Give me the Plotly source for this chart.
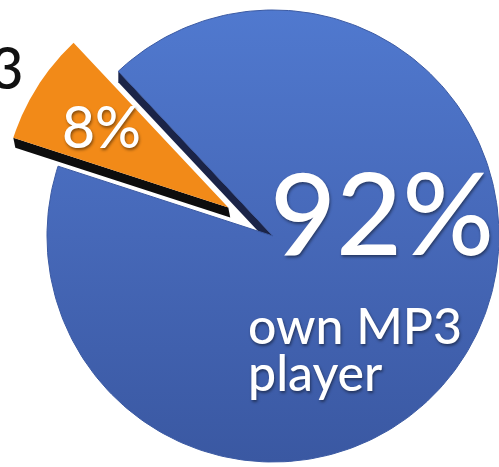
import numpy as np
import plotly.graph_objects as go

# Survey result: share of respondents owning an MP3 player
labels = ["own MP3 player", "don't own MP3 player"]
values = [92, 8]
face_colors = ["#4a70c4", "#f28a18"]
side_colors = ["#1b2447", "#0d0d0d"]
caption_lines = ["own MP3", "player"]
outside_caption = "don't own MP3"

W, H = 499, 467
CX, CY, R = 273, 236, 226      # pie centre and radius, in pixels
START = 162.0                  # angle where the first slice begins (deg, ccw from 3 o'clock)
PULL = 53                      # how far the small slice is pulled out
BLUE_DEPTH = (0, 11)           # visible thickness of the cut faces
ORANGE_DEPTH = (2, 10)

total = float(sum(values))
spans = [v / total * 360.0 for v in values]
pct = [f"{round(v / total * 100):.0f}%" for v in values]


def wedge(cx, cy, r, a0, a1, n=240):
    t = np.radians(np.linspace(a0, a1, n))
    xs = np.concatenate([[cx], cx + r * np.cos(t), [cx]])
    ys = np.concatenate([[cy], cy - r * np.sin(t), [cy]])
    return xs, ys


def cut_face(cx, cy, r, a, d):
    t = np.radians(a)
    ox, oy = cx + r * np.cos(t), cy - r * np.sin(t)
    xs = [cx, ox, ox + d[0], cx + d[0], cx]
    ys = [cy, oy, oy + d[1], cy + d[1], cy]
    return xs, ys


fig = go.Figure()

# big slice: runs counter-clockwise from START
b0, b1 = START, START + spans[0]
# small slice fills the remaining gap and is pulled out along its bisector
o0, o1 = START - spans[1], START
mid = np.radians((o0 + o1) / 2)
ocx, ocy = CX + PULL * np.cos(mid), CY - PULL * np.sin(mid)

sx, sy = cut_face(CX, CY, R, b1, BLUE_DEPTH)
fig.add_trace(go.Scatter(x=sx, y=sy, fill="toself", mode="lines",
                         line=dict(width=0), fillcolor=side_colors[0],
                         hoverinfo="skip", showlegend=False))
bx, by = wedge(CX, CY, R, b0, b1)
fig.add_trace(go.Scatter(x=bx, y=by, fill="toself", mode="lines",
                         line=dict(width=1, color="#3b5aa3"),
                         fillgradient=dict(type="vertical", start=CY - R, stop=CY + R,
                                           colorscale=[[0, "#5079cf"], [0.5, "#4668b8"],
                                                       [1, "#3a58a2"]]),
                         name=labels[0], hoverinfo="name", showlegend=False))

sx, sy = cut_face(ocx, ocy, R, o1, ORANGE_DEPTH)
fig.add_trace(go.Scatter(x=sx, y=sy, fill="toself", mode="lines",
                         line=dict(width=0), fillcolor=side_colors[1],
                         hoverinfo="skip", showlegend=False))
ox, oy = wedge(ocx, ocy, R, o0, o1)
fig.add_trace(go.Scatter(x=ox, y=oy, fill="toself", mode="lines",
                         line=dict(width=0), fillcolor=face_colors[1],
                         name=labels[1], hoverinfo="name", showlegend=False))

shadow = "1px 2px 3px rgba(0,0,0,0.45)"
FONT = "Lato"
annotations = [
    dict(x=268, y=210, text=pct[0], xanchor="left", yanchor="middle",
         font=dict(family=FONT, size=114, weight=500, color="white", shadow=shadow)),
    dict(x=246, y=325, text=caption_lines[0], xanchor="left", yanchor="middle",
         font=dict(family=FONT, size=50, weight=500, color="white", shadow=shadow)),
    dict(x=246, y=372, text=caption_lines[1], xanchor="left", yanchor="middle",
         font=dict(family=FONT, size=50, weight=500, color="white", shadow=shadow)),
    dict(x=60, y=126, text=pct[1], xanchor="left", yanchor="middle",
         font=dict(family=FONT, size=57, weight=500, color="white", shadow=shadow)),
    dict(x=26, y=67, text=outside_caption, xanchor="right", yanchor="middle",
         font=dict(family=FONT, size=57, weight=500, color="#111111")),
]
for a in annotations:
    a.update(xref="x", yref="y", showarrow=False)

fig.update_layout(
    width=W, height=H,
    margin=dict(l=0, r=0, t=0, b=0),
    paper_bgcolor="white", plot_bgcolor="white",
    xaxis=dict(range=[0, W], visible=False, fixedrange=True),
    yaxis=dict(range=[H, 0], visible=False, fixedrange=True),
    annotations=annotations,
    showlegend=False,
)

fig.write_html("out.html")
